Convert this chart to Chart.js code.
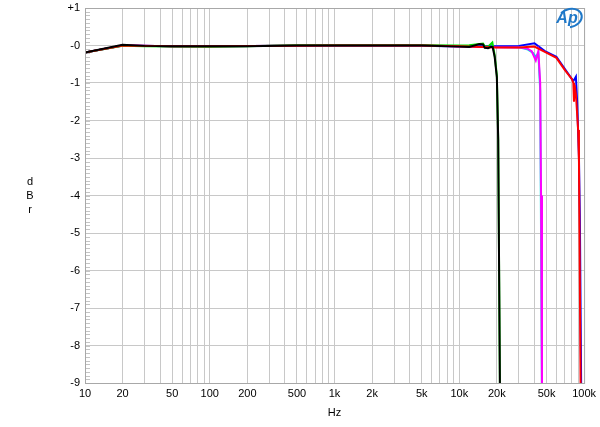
<!DOCTYPE html>
<html>
<head>
<meta charset="utf-8">
<script src="https://cdn.jsdelivr.net/npm/chart.js@4/dist/chart.umd.min.js"></script>
<style>
  html, body { margin: 0; padding: 0; background: #fff; }
</style>
</head>
<body>
<canvas id="chart" width="600" height="427"></canvas>
<script>
// tick labels on the log frequency axis
const xLabels = [10, 20, 50, 100, 200, 500, 1000, 2000, 5000, 10000, 20000, 50000, 100000];

// response curves (Hz, dBr)
const blackHz = [10, 20, 30, 50, 100, 200, 500, 1000, 2000, 5000, 10000, 12000, 14500, 15500, 16000, 17000, 17800, 18500, 19200, 20000, 20500, 21200];
const blackDb = [-0.19, 0.02, -0.01, -0.02, -0.02, -0.02, 0.0, 0.0, 0.0, 0.0, -0.03, -0.04, 0.04, 0.03, -0.06, -0.07, -0.04, -0.04, -0.3, -0.85, -2.5, -9.5];

const greenHz = [10, 20, 30, 50, 100, 200, 500, 1000, 2000, 5000, 10000, 12000, 14500, 15500, 16000, 17000, 18400, 19200, 20000, 20500, 21200];
const greenDb = [-0.19, -0.01, -0.02, -0.03, -0.03, -0.02, 0.01, 0.01, 0.01, 0.01, 0.0, 0.01, 0.04, 0.05, -0.02, -0.03, 0.08, -0.25, -0.8, -2.5, -9.5];

const magentaHz = [10, 20, 50, 100, 1000, 5000, 10000, 20000, 30000, 35000, 38000, 41000, 43000, 44500, 45200, 46000];
const magentaDb = [-0.19, 0.0, -0.02, -0.02, 0.0, -0.01, -0.03, -0.05, -0.05, -0.08, -0.15, -0.4, -0.15, -1.0, -4.0, -9.5];

const cyanHz = [10, 20, 50, 100, 1000, 5000, 10000, 20000, 30000, 35000, 39000, 41000, 43000, 44500, 46000];
const cyanDb = [-0.19, 0.0, -0.02, -0.02, 0.0, -0.01, -0.03, -0.04, -0.05, -0.1, -0.2, -0.3, -0.2, -1.2, -9.5];

const blueHz = [10, 20, 50, 100, 1000, 5000, 10000, 20000, 30000, 40000, 48500, 60000, 70000, 82000, 86000, 88000, 91000, 92500, 95000];
const blueDb = [-0.19, 0.0, -0.02, -0.02, 0.0, 0.0, -0.02, -0.02, -0.01, 0.06, -0.15, -0.3, -0.62, -0.95, -0.83, -1.5, -3.0, -4.5, -9.5];

const redHz = [10, 20, 50, 100, 1000, 5000, 10000, 20000, 30000, 40000, 48500, 60000, 70000, 80000, 82000, 83000, 84000, 86000, 89600, 91000, 94000];
const redDb = [-0.19, 0.0, -0.02, -0.02, 0.0, 0.0, -0.02, -0.05, -0.05, -0.03, -0.17, -0.33, -0.65, -0.9, -1.0, -1.5, -1.05, -1.3, -2.25, -3.1, -9.5];

const pts = (hz, db) => hz.map((f, i) => ({ x: f, y: db[i] }));

// every 1..9 multiple per decade gets a grid line
const gridHz = [];
for (let d = 10; d < 100000; d *= 10) {
  for (let m = 1; m < 10; m++) gridHz.push(m * d);
}
gridHz.push(100000);

const font = { family: "'Liberation Sans', Arial, sans-serif", size: 11 };

const extras = {
  id: 'extras',
  beforeDatasetsDraw(chart) {
    const { ctx, chartArea: a, scales: { y } } = chart;
    ctx.save();
    ctx.strokeStyle = '#c4c4c4';
    ctx.lineWidth = 1;
    ctx.beginPath();
    for (let i = 0; i <= 100; i++) {
      const py = Math.round(y.getPixelForValue(1 - i / 10)) + 0.5;
      ctx.moveTo(a.left, py);
      ctx.lineTo(a.left + 5, py);
    }
    ctx.stroke();
    ctx.restore();
  },
  afterDraw(chart) {
    const { ctx, chartArea: a } = chart;
    ctx.save();
    ctx.strokeStyle = '#a8a8a8';
    ctx.lineWidth = 1;
    ctx.strokeRect(a.left + 0.5, a.top + 0.5, a.right - a.left, a.bottom - a.top);

    ctx.fillStyle = '#000';
    ctx.font = "11px 'Liberation Sans', Arial, sans-serif";
    ctx.textAlign = 'center';
    ctx.textBaseline = 'middle';
    ['d', 'B', 'r'].forEach((c, i) => ctx.fillText(c, 30, 182 + i * 14));

    // Ap logo
    ctx.strokeStyle = '#1f78c8';
    ctx.lineWidth = 2;
    ctx.beginPath();
    ctx.ellipse(570, 18, 12, 9, -0.3, -2.2, 1.8);
    ctx.stroke();
    ctx.fillStyle = '#1f78c8';
    ctx.font = "italic bold 16px 'Liberation Sans', Arial, sans-serif";
    ctx.fillText('Ap', 567, 19);
    ctx.restore();
  }
};

new Chart(document.getElementById('chart'), {
  type: 'line',
  data: {
    datasets: [
      { data: pts(blackHz, blackDb), borderColor: '#000000', borderWidth: 2 },
      { data: pts(redHz, redDb), borderColor: '#ff0000', borderWidth: 2 },
      { data: pts(greenHz, greenDb), borderColor: '#00e000', borderWidth: 2 },
      { data: pts(magentaHz, magentaDb), borderColor: '#ff00ff', borderWidth: 2 },
      { data: pts(blueHz, blueDb), borderColor: '#0000ff', borderWidth: 2 },
      { data: pts(cyanHz, cyanDb), borderColor: '#00e0e0', borderWidth: 2 }
    ]
  },
  options: {
    responsive: false,
    animation: false,
    elements: { point: { radius: 0 }, line: { tension: 0 } },
    layout: { padding: { top: 8, right: 12 } },
    plugins: { legend: { display: false }, tooltip: { enabled: false } },
    scales: {
      x: {
        type: 'logarithmic',
        min: 10,
        max: 100000,
        afterBuildTicks: s => { s.ticks = gridHz.map(v => ({ value: v })); },
        afterFit: s => { s.height = 44; },
        grid: { color: '#c8c8c8', drawTicks: false },
        border: { display: false },
        ticks: {
          autoSkip: false,
          maxRotation: 0,
          padding: 4,
          color: '#000',
          font,
          callback: v => {
            if (!xLabels.includes(v)) return '';
            return v >= 1000 ? (v / 1000) + 'k' : String(v);
          }
        },
        title: { display: true, text: 'Hz', color: '#000', font, padding: { top: 2, bottom: 7 } }
      },
      y: {
        min: -9,
        max: 1,
        afterFit: s => { s.width = 85; },
        grid: { color: '#c8c8c8', drawTicks: false },
        border: { display: false },
        ticks: {
          stepSize: 1,
          padding: 5,
          color: '#000',
          font: { family: font.family, size: 11, lineHeight: 0.5 },
          callback: v => v > 0 ? '+' + v : (v === 0 ? '-0' : String(v))
        }
      }
    }
  },
  plugins: [extras]
});
</script>
</body>
</html>
